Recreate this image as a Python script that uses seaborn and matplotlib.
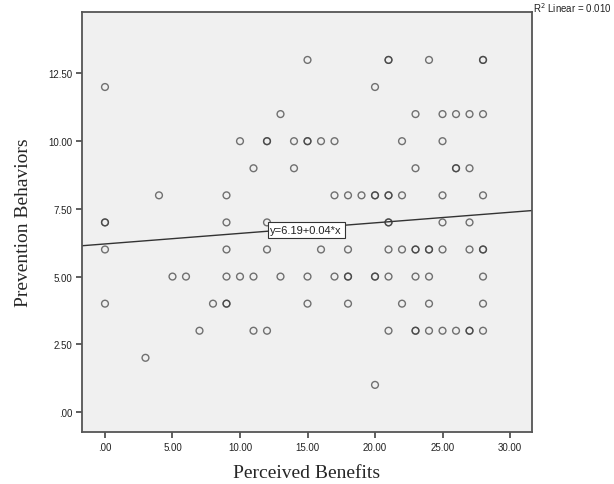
import numpy as np
import pandas as pd
import seaborn as sns
import matplotlib.pyplot as plt

# Puntos (agrupados por nivel de conducta)
beneficios = [
    15, 21, 21, 24, 28, 28,
    0, 20,
    13, 23, 25, 26, 27, 28,
    10, 12, 12, 14, 15, 15, 16, 17, 22, 25,
    11, 14, 23, 26, 26, 27,
    4, 9, 17, 18, 19, 20, 20, 21, 21, 22, 25, 28,
    0, 0, 9, 12, 21, 21, 25, 27,
    0, 9, 12, 16, 18, 21, 22, 23, 23, 24, 24, 25, 27, 28, 28,
    5, 6, 9, 10, 11, 13, 15, 17, 18, 18, 20, 20, 21, 23, 24, 28,
    0, 8, 9, 9, 15, 18, 22, 24, 28,
    7, 11, 12, 21, 23, 23, 24, 25, 26, 27, 27, 28,
    3,
    20,
]
conductas = [
    13, 13, 13, 13, 13, 13,
    12, 12,
    11, 11, 11, 11, 11, 11,
    10, 10, 10, 10, 10, 10, 10, 10, 10, 10,
    9, 9, 9, 9, 9, 9,
    8, 8, 8, 8, 8, 8, 8, 8, 8, 8, 8, 8,
    7, 7, 7, 7, 7, 7, 7, 7,
    6, 6, 6, 6, 6, 6, 6, 6, 6, 6, 6, 6, 6, 6, 6,
    5, 5, 5, 5, 5, 5, 5, 5, 5, 5, 5, 5, 5, 5, 5, 5,
    4, 4, 4, 4, 4, 4, 4, 4, 4,
    3, 3, 3, 3, 3, 3, 3, 3, 3, 3, 3, 3,
    2,
    1,
]
xticks = [0, 5, 10, 15, 20, 25, 30]
yticks = [0, 2.5, 5, 7.5, 10, 12.5]
etiqueta_ecuacion = 'y=6.19+0.04*x'
etiqueta_r2 = r'R$^2$ Linear = 0.010'

df = pd.DataFrame({'Perceived Benefits': beneficios,
                   'Prevention Behaviors': conductas})

sns.set_style('ticks')
plt.rcParams['font.family'] = ['Liberation Sans', 'DejaVu Sans']

fig = plt.figure(figsize=(6.14, 4.85), dpi=100)
ax = fig.add_axes([0.1336, 0.1072, 0.7329, 0.866])
ax.set_facecolor('#f0f0f0')
ax.set_xlim(-1.70, 31.63)
ax.set_ylim(-0.74, 14.77)

sns.scatterplot(data=df, x='Perceived Benefits', y='Prevention Behaviors', ax=ax,
                marker='o', s=24, facecolor='none', edgecolor='#3a3a3a',
                linewidth=1.0, alpha=0.7, zorder=3)

sns.regplot(data=df, x='Perceived Benefits', y='Prevention Behaviors', ax=ax,
            scatter=False, ci=None, truncate=False,
            line_kws={'color': '#333333', 'linewidth': 1.0, 'zorder': 2})

ax.text(14.9, 6.72, etiqueta_ecuacion, ha='center', va='center', fontsize=8,
        color='#222222', zorder=4,
        bbox=dict(boxstyle='square,pad=0.25', facecolor='white',
                  edgecolor='#333333', linewidth=0.8))

ax.set_xticks(xticks)
ax.set_xticklabels(['.00' if v == 0 else f'{v:.2f}' for v in xticks])
ax.set_yticks(yticks)
ax.set_yticklabels(['.00' if v == 0 else f'{v:.2f}' for v in yticks])
ax.tick_params(axis='both', labelsize=7, length=4, width=1.2, color='#444444',
               labelcolor='#222222', pad=3)

for s in ax.spines.values():
    s.set_visible(True)
    s.set_color('#555555')
    s.set_linewidth(1.3)

ax.set_xlabel('Perceived Benefits', family='Liberation Serif', fontsize=14, labelpad=9)
ax.set_ylabel('Prevention Behaviors', family='Liberation Serif', fontsize=14, labelpad=12)

fig.text(0.8685, 0.984, etiqueta_r2, ha='left', va='center', fontsize=7, color='#222222')

plt.savefig('out.png', dpi=100)
plt.close()
